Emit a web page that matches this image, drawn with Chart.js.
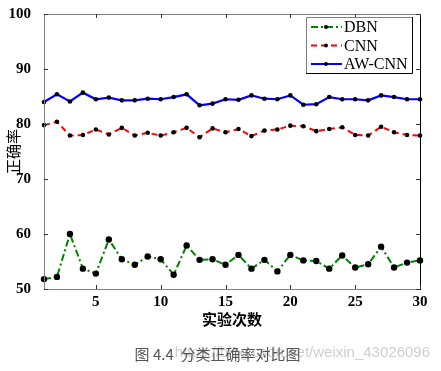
<!DOCTYPE html>
<html>
<head>
<meta charset="utf-8">
<script src="https://cdn.jsdelivr.net/npm/chart.js@4/dist/chart.umd.min.js"></script>
<style>
  html, body { margin: 0; padding: 0; background: #fff; }
  #wrap { position: relative; width: 441px; height: 371px; }
  #caption { position: absolute; left: 0; width: 441px; top: 343px; text-align: center;
    font-family: "Noto Sans CJK SC", sans-serif; font-size: 15px; color: #555; padding-right: 6px; box-sizing: border-box; }
  #mark { position: absolute; right: 11px; top: 343px; font-family: "Liberation Sans", Arial, sans-serif;
    font-size: 15px; color: rgba(190,190,190,0.75); }
</style>
</head>
<body>
<div id="wrap">
  <canvas id="chart" width="441" height="371"></canvas>
  <div id="mark">https://blog.csdn.net/weixin_43026096</div>
  <div id="caption">图 4.4&nbsp; 分类正确率对比图</div>
</div>
<script>
// data
const runs = [1,2,3,4,5,6,7,8,9,10,11,12,13,14,15,16,17,18,19,20,21,22,23,24,25,26,27,28,29,30];
const dbn = [51.8,52.2,60.0,53.7,52.8,59.0,55.4,54.4,55.9,55.4,52.6,57.9,55.3,55.4,54.4,56.2,53.7,55.3,53.2,56.2,55.2,55.1,53.7,56.1,53.9,54.5,57.7,53.9,54.8,55.2];
const cnn = [79.8,80.4,77.9,78.0,79.0,78.1,79.3,77.9,78.4,77.9,78.5,79.3,77.6,79.2,78.5,79.1,77.8,78.8,79.0,79.7,79.6,78.7,79.1,79.4,78.0,77.9,79.5,78.5,78.0,77.9];
const awcnn = [84.0,85.4,84.1,85.7,84.5,84.8,84.3,84.3,84.6,84.5,84.9,85.4,83.4,83.7,84.5,84.4,85.2,84.6,84.5,85.2,83.5,83.6,84.9,84.5,84.5,84.3,85.2,84.9,84.5,84.5];
const xTicks = [5,10,15,20,25,30];
const yTicks = [50,60,70,80,90,100];
const seriesNames = ['DBN','CNN','AW-CNN'];

const tickFont = { family: 'Liberation Serif', size: 15, weight: 'bold' };
const pts = arr => arr.map((v, i) => ({ x: runs[i], y: v }));

// MATLAB style box with inward ticks + legend
const boxPlugin = {
  id: 'box',
  afterDatasetsDraw(chart) {
    const { ctx, chartArea: a, scales } = chart;
    ctx.save();
    ctx.lineWidth = 1;
    ctx.strokeStyle = '#808080';
    ctx.beginPath();
    ctx.moveTo(a.left + 0.5, a.bottom + 0.5);
    ctx.lineTo(a.left + 0.5, a.top + 0.5);
    ctx.lineTo(a.right + 0.5, a.top + 0.5);
    ctx.moveTo(a.left + 0.5, a.bottom + 0.5);
    ctx.lineTo(a.right + 0.5, a.bottom + 0.5);
    ctx.stroke();
    ctx.strokeStyle = '#000';
    ctx.beginPath();
    ctx.moveTo(a.right + 0.5, a.top);
    ctx.lineTo(a.right + 0.5, a.bottom + 1);
    ctx.stroke();
    ctx.strokeStyle = '#333';
    ctx.beginPath();
    xTicks.forEach(t => {
      const x = Math.round(scales.x.getPixelForValue(t)) + 0.5;
      ctx.moveTo(x, a.bottom); ctx.lineTo(x, a.bottom - 4);
      ctx.moveTo(x, a.top); ctx.lineTo(x, a.top + 4);
    });
    yTicks.forEach(t => {
      const y = Math.round(scales.y.getPixelForValue(t)) + 0.5;
      ctx.moveTo(a.left, y); ctx.lineTo(a.left + 4, y);
      ctx.moveTo(a.right, y); ctx.lineTo(a.right - 4, y);
    });
    ctx.stroke();

    // legend
    const lx = 306, ly = 17, lw = 106, lh = 56;
    ctx.fillStyle = '#fff';
    ctx.fillRect(lx, ly, lw, lh);
    ctx.strokeStyle = '#808080';
    ctx.beginPath();
    ctx.moveTo(lx + 0.5, ly + lh + 0.5); ctx.lineTo(lx + 0.5, ly + 0.5); ctx.lineTo(lx + lw + 0.5, ly + 0.5);
    ctx.stroke();
    ctx.strokeStyle = '#000';
    ctx.beginPath();
    ctx.moveTo(lx + lw + 0.5, ly); ctx.lineTo(lx + lw + 0.5, ly + lh + 0.5); ctx.lineTo(lx, ly + lh + 0.5);
    ctx.stroke();
    chart.data.datasets.forEach((ds, i) => {
      const y = ly + 10 + i * 18.5;
      ctx.strokeStyle = ds.borderColor;
      ctx.lineWidth = 2;
      ctx.setLineDash(ds.borderDash || []);
      ctx.beginPath();
      ctx.moveTo(lx + 5, y); ctx.lineTo(lx + 36, y);
      ctx.stroke();
      ctx.setLineDash([]);
      ctx.fillStyle = '#000';
      ctx.beginPath();
      ctx.arc(lx + 20, y, 2, 0, Math.PI * 2);
      ctx.fill();
      ctx.font = '16px "Liberation Serif"';
      ctx.textBaseline = 'middle';
      ctx.fillText(seriesNames[i], lx + 38, y + 1);
    });
    ctx.restore();
  }
};

new Chart(document.getElementById('chart'), {
  type: 'line',
  data: {
    datasets: [
      { label: seriesNames[0], data: pts(dbn), borderColor: '#008000', borderWidth: 2, borderDash: [7, 3, 2, 3],
        pointRadius: 3.2, pointBackgroundColor: '#000', pointBorderColor: '#000', pointBorderWidth: 0, tension: 0 },
      { label: seriesNames[1], data: pts(cnn), borderColor: '#ff0000', borderWidth: 2, borderDash: [6, 4],
        pointRadius: 2.3, pointBackgroundColor: '#000', pointBorderColor: '#000', pointBorderWidth: 0, tension: 0 },
      { label: seriesNames[2], data: pts(awcnn), borderColor: '#0000ff', borderWidth: 2.2,
        pointRadius: 2.3, pointBackgroundColor: '#000', pointBorderColor: '#000', pointBorderWidth: 0, tension: 0 }
    ]
  },
  options: {
    responsive: false,
    animation: false,
    clip: false,
    layout: { padding: { top: 11, right: 21, left: 0, bottom: 41 } },
    plugins: { legend: { display: false }, tooltip: { enabled: false } },
    scales: {
      x: {
        type: 'linear', min: 1, max: 30,
        afterBuildTicks: s => { s.ticks = xTicks.map(v => ({ value: v })); },
        afterFit: s => { s.height = 41; },
        grid: { display: false }, border: { display: false },
        ticks: { color: '#000', font: tickFont, padding: -4, maxRotation: 0 },
        title: { display: true, text: '实验次数', color: '#000', padding: { top: 0, bottom: 2 },
          font: { family: 'Noto Sans CJK SC', size: 15, weight: 'bold' } }
      },
      y: {
        min: 50, max: 100,
        afterBuildTicks: s => { s.ticks = yTicks.map(v => ({ value: v })); },
        afterFit: s => { s.width = 44; },
        grid: { display: false }, border: { display: false },
        ticks: { color: '#000', font: tickFont, padding: 5 },
        title: { display: true, text: '正确率', color: '#000', padding: { bottom: 0 },
          font: { family: 'Noto Sans CJK SC', size: 15 } }
      }
    }
  },
  plugins: [boxPlugin]
});
</script>
</body>
</html>
